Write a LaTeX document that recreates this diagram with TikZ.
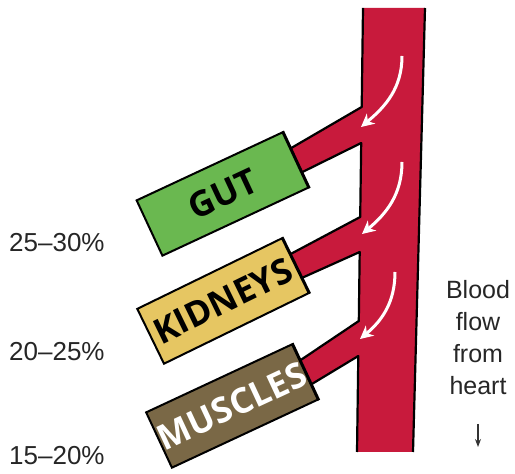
\documentclass[tikz,border=0pt]{standalone}
\usepackage{fontspec}
\setmainfont{Liberation Sans}
\newfontfamily\organfont{Open Sans}
\usetikzlibrary{arrows.meta,calc}

\definecolor{bloodred}{RGB}{200,26,60}
\definecolor{gutgreen}{RGB}{106,184,80}
\definecolor{kidyellow}{RGB}{230,198,98}
\definecolor{musbrown}{RGB}{122,104,70}

\begin{document}
\begin{tikzpicture}[x=1pt, y=1pt,
    organ/.style={rectangle, draw, line width=2pt, minimum width=161pt,
                  minimum height=61pt, inner sep=0pt,
                  font=\organfont\bfseries\fontsize{35}{36}\selectfont},
    pct/.style={anchor=west, inner sep=0pt, font=\fontsize{26}{30}\selectfont,
                text=black!85},
    edge/.style={line width=2.2pt, line join=round},
    flowarr/.style={white, line width=3pt,
                    -{Stealth[length=13pt, width=13pt, inset=4pt]}},
    dn/.style={line width=1.1pt, black!80, -{Stealth[length=8pt, width=6pt]}},
  ]
  \useasboundingbox (0,0) rectangle (515,474);

  % organs
  \node[organ, fill=gutgreen, rotate=25] (gut) at (222.5,280) {GUT};
  \node[organ, fill=kidyellow, rotate=26] (kid) at (223,173) {KIDNEYS};
  \node[organ, fill=musbrown, text=white, rotate=25] (mus) at (232,68) {MUSCLES};

  % vessel
  \coordinate (vtl) at (363,466);
  \coordinate (vtr) at (425,466);
  \coordinate (vbr) at (413,22);
  \coordinate (vbl) at (357,22);
  \coordinate (g1) at (361.7,367);
  \coordinate (g2) at (361.2,331);
  \coordinate (k1) at (360.2,257);
  \coordinate (k2) at (359.7,222);
  \coordinate (m1) at (358.8,153);
  \coordinate (m2) at (358.3,118);
  \coordinate (gu) at ($(gut.north east)!0.3!(gut.south east)$);
  \coordinate (gl) at ($(gut.north east)!0.72!(gut.south east)$);
  \coordinate (ku) at ($(kid.north east)!0.3!(kid.south east)$);
  \coordinate (kl) at ($(kid.north east)!0.72!(kid.south east)$);
  \coordinate (mu) at ($(mus.north east)!0.3!(mus.south east)$);
  \coordinate (ml) at ($(mus.north east)!0.72!(mus.south east)$);

  \fill[bloodred] (vtl) -- (vtr) -- (vbr) -- (vbl) -- (m2) -- (ml) -- (mu)
    -- (m1) -- (k2) -- (kl) -- (ku) -- (k1) -- (g2) -- (gl) -- (gu) -- (g1) -- cycle;
  \draw[edge] (vtr) -- (vbr);
  \draw[edge] (vtl) -- (g1) -- (gu);
  \draw[edge] (gl) -- (g2) -- (k1) -- (ku);
  \draw[edge] (kl) -- (k2) -- (m1) -- (mu);
  \draw[edge] (ml) -- (m2) -- (vbl);

  % redraw organ frames over the branch ends
  \draw[line width=2pt] (gut.north east) -- (gut.south east);
  \draw[line width=2pt] (kid.north east) -- (kid.south east);
  \draw[line width=2pt] (mus.north east) -- (mus.south east);

  % flow arrows
  \coordinate (a1s) at (402,418);
  \coordinate (a1e) at (361,347);
  \coordinate (a2s) at (402,312);
  \coordinate (a2e) at (362,240);
  \coordinate (a3s) at (395,202);
  \coordinate (a3e) at (360,135);
  \draw[flowarr] (a1s) to[out=-90, in=40] (a1e);
  \draw[flowarr] (a2s) to[out=-90, in=40] (a2e);
  \draw[flowarr] (a3s) to[out=-90, in=40] (a3e);

  % labels
  \node[pct] (p1) at (9,231) {25--30\%};
  \node[pct] (p2) at (9,122) {20--25\%};
  \node[pct] (p3) at (9,18) {15--20\%};

  \node[align=center, inner sep=0pt, text=black!85,
        font=\fontsize{25}{32}\selectfont] (flow) at (478,136) {Blood\\flow\\from\\heart};
  \coordinate (dtop) at (478,50);
  \coordinate (dbot) at (478,27);
  \draw[dn] (dtop) -- (dbot);
\end{tikzpicture}
\end{document}
